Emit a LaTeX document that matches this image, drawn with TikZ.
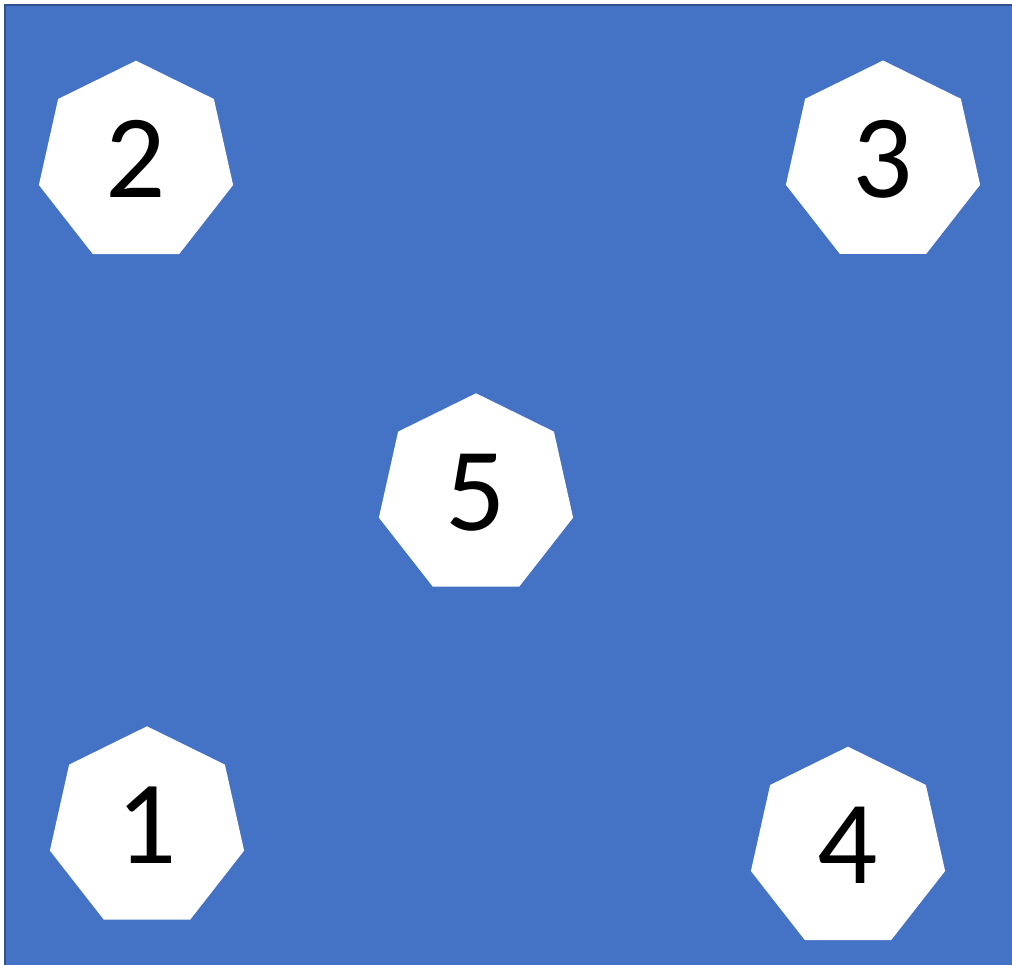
\documentclass[tikz,border=0pt]{standalone}
\usepackage{fontspec}
\setmainfont{Carlito}
\definecolor{bgblue}{HTML}{4472C4}
\definecolor{edgeblue}{HTML}{2F528F}
\tikzset{
  heptfill/.style={fill=white, draw=none},
  numlabel/.style={anchor=base, inner sep=0pt, font=\fontsize{119}{130}\selectfont, text=black}
}
\newcommand{\hepta}[1]{%
  \fill[heptfill] ($(#1)+(-90:99.6 and 101.7)$)
    \foreach \k in {1,...,6} { -- ($(#1)+(-90+\k*360/7:99.6 and 101.7)$) } -- cycle;}
\usetikzlibrary{calc}
\begin{document}
\begin{tikzpicture}[x=1pt,y=-1pt]
\useasboundingbox (0,0) rectangle (1012,965);
\fill[white] (0,0) rectangle (1012,965);
\filldraw[fill=bgblue, draw=edgeblue, line width=1.3pt] (5,5) rectangle (1020,975);
\coordinate (c2) at (136,162.4);
\coordinate (c3) at (883,162.2);
\coordinate (c5) at (476,495);
\coordinate (c1) at (147,828);
\coordinate (c4) at (848,848.4);
\foreach \c in {c1,c2,c3,c4,c5} {\hepta{\c}}
\node[numlabel] (n2) at ($(c2)+(0,35.3)$) {2};
\node[numlabel] (n3) at ($(c3)+(0,35.3)$) {3};
\node[numlabel] (n5) at ($(c5)+(0,35.3)$) {5};
\node[numlabel] (n1) at ($(c1)+(0,35.3)$) {1};
\node[numlabel] (n4) at ($(c4)+(0,35.3)$) {4};
\end{tikzpicture}
\end{document}
